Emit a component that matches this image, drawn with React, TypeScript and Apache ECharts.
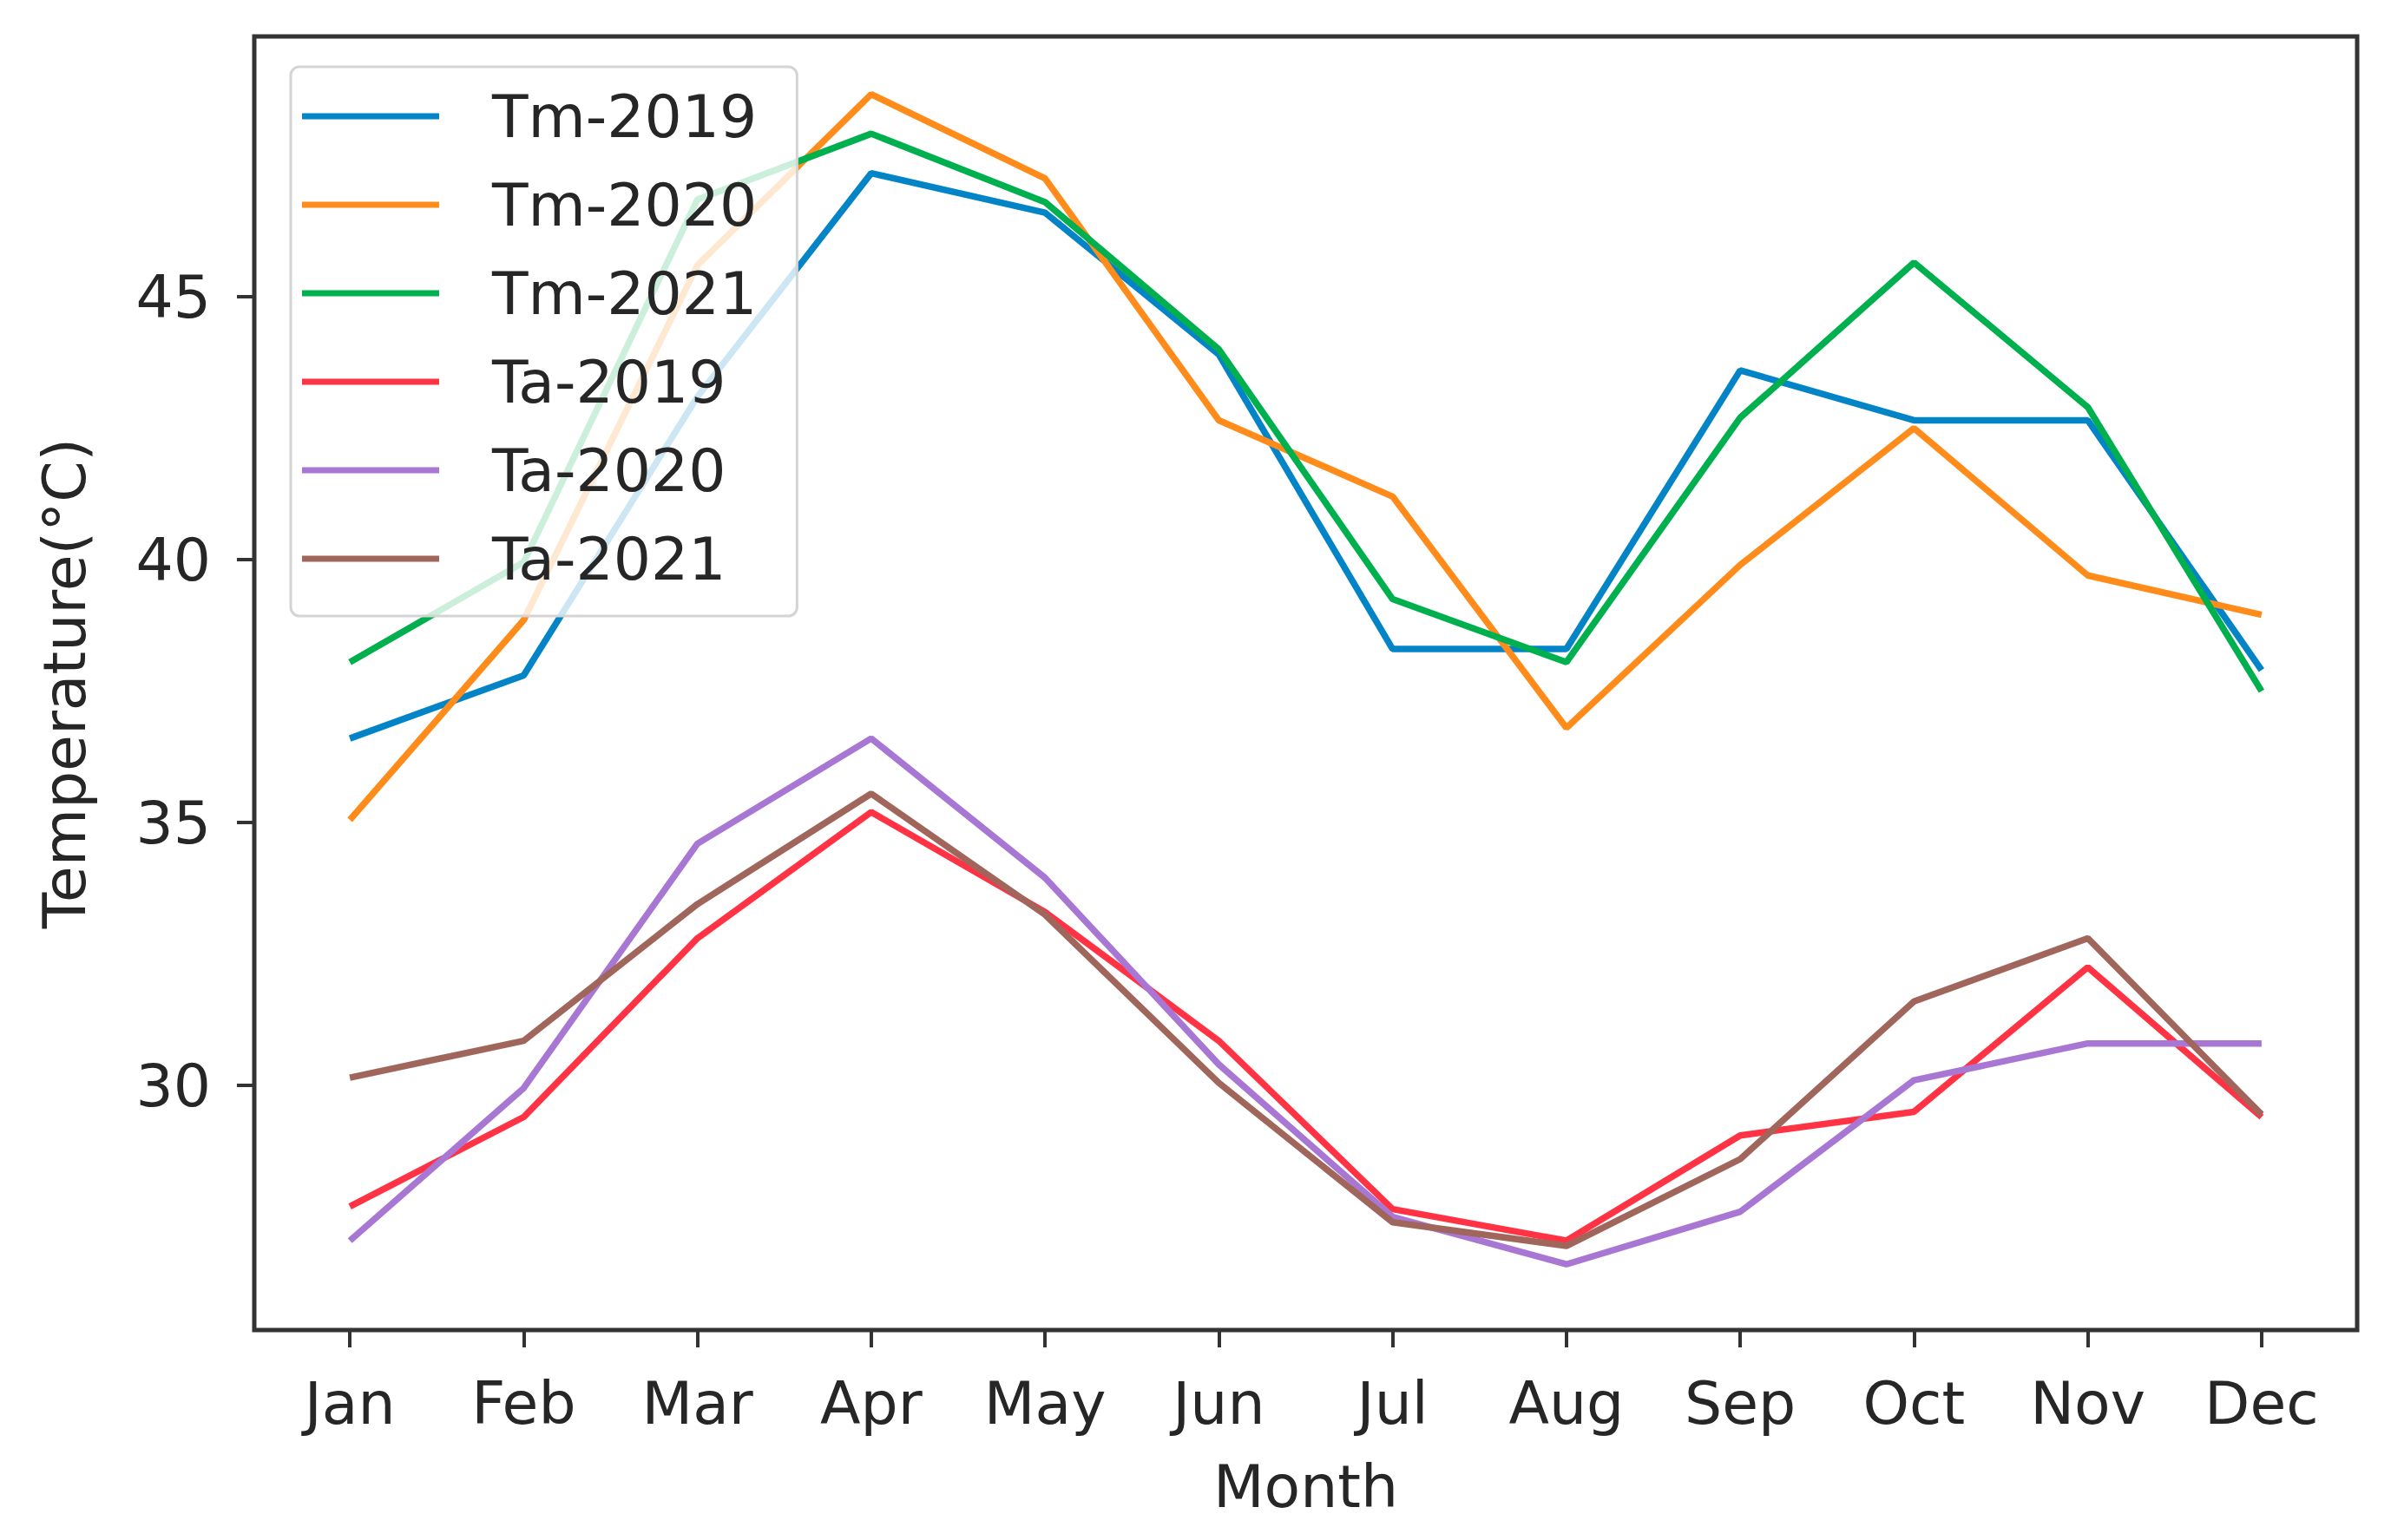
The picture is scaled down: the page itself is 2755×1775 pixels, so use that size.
import React, { useEffect, useRef } from 'react';
import * as echarts from 'echarts';

const months = ['Jan', 'Feb', 'Mar', 'Apr', 'May', 'Jun', 'Jul', 'Aug', 'Sep', 'Oct', 'Nov', 'Dec'];
const yTicks = [30, 35, 40, 45];

const tm2019 = [36.6, 37.8, 43.1, 47.35, 46.6, 43.9, 38.3, 38.3, 43.6, 42.65, 42.65, 37.9];
const tm2020 = [35.05, 38.85, 45.6, 48.85, 47.25, 42.65, 41.2, 36.8, 39.9, 42.5, 39.7, 38.95];
const tm2021 = [38.05, 39.95, 46.85, 48.1, 46.8, 44.0, 39.25, 38.05, 42.7, 45.65, 42.9, 37.5];
const ta2019 = [27.7, 29.4, 32.8, 35.2, 33.3, 30.85, 27.65, 27.05, 29.05, 29.5, 32.25, 29.4];
const ta2020 = [27.05, 29.95, 34.6, 36.6, 33.95, 30.4, 27.5, 26.6, 27.6, 30.1, 30.8, 30.8];
const ta2021 = [30.15, 30.85, 33.45, 35.55, 33.25, 30.05, 27.4, 26.95, 28.6, 31.6, 32.8, 29.45];

const seriesDefs = [
  { name: 'Tm-2019', values: tm2019, color: '#0284c7' },
  { name: 'Tm-2020', values: tm2020, color: '#ff8c1a' },
  { name: 'Tm-2021', values: tm2021, color: '#00b04f' },
  { name: 'Ta-2019', values: ta2019, color: '#ff3344' },
  { name: 'Ta-2020', values: ta2020, color: '#a877d4' },
  { name: 'Ta-2021', values: ta2021, color: '#a0665c' },
];

const FONT = 'DejaVu Sans';
const TEXT = '#262626';
const AXIS = '#333333';

export default function App() {
  const ref = useRef<HTMLDivElement>(null);

  useEffect(() => {
    if (!ref.current) return;
    const chart = echarts.init(ref.current, undefined, { renderer: 'svg' });

    chart.setOption({
      animation: false,
      backgroundColor: '#ffffff',
      textStyle: { fontFamily: FONT, color: TEXT },
      grid: {
        left: 293,
        right: 39,
        top: 42,
        bottom: 242,
        show: true,
        borderColor: AXIS,
        borderWidth: 5,
        backgroundColor: 'transparent',
      },
      legend: {
        orient: 'vertical',
        left: 335,
        top: 77,
        icon: 'rect',
        itemWidth: 158,
        itemHeight: 7,
        itemGap: 34,
        padding: [23, 46, 32, 13],
        backgroundColor: 'rgba(255,255,255,0.8)',
        borderColor: '#d4d4d4',
        borderWidth: 3,
        borderRadius: 10,
        textStyle: {
          fontFamily: FONT,
          fontSize: 68,
          color: TEXT,
          padding: [0, 0, 0, 56],
        },
        data: seriesDefs.map((s) => s.name),
      },
      xAxis: {
        type: 'value',
        min: -0.55,
        max: 11.55,
        name: 'Month',
        nameLocation: 'middle',
        nameGap: 146,
        nameTextStyle: { fontFamily: FONT, fontSize: 68, color: TEXT },
        axisLine: { show: false, onZero: false },
        axisTick: {
          show: true,
          length: 20,
          customValues: months.map((_, i) => i),
          lineStyle: { color: AXIS, width: 4 },
        },
        axisLabel: {
          show: true,
          margin: 50,
          fontFamily: FONT,
          fontSize: 68,
          color: TEXT,
          customValues: months.map((_, i) => i),
          formatter: (v: number) => months[Math.round(v)] ?? '',
        },
        splitLine: { show: false },
      },
      yAxis: {
        type: 'value',
        min: 25.35,
        max: 49.95,
        name: 'Temperature(°C)',
        nameLocation: 'middle',
        nameGap: 185,
        nameRotate: 90,
        nameTextStyle: { fontFamily: FONT, fontSize: 68, color: TEXT },
        axisLine: { show: false, onZero: false },
        axisTick: {
          show: true,
          length: 20,
          customValues: yTicks,
          lineStyle: { color: AXIS, width: 4 },
        },
        axisLabel: {
          show: true,
          margin: 50,
          fontFamily: FONT,
          fontSize: 68,
          color: TEXT,
          customValues: yTicks,
          formatter: (v: number) => String(v),
        },
        splitLine: { show: false },
      },
      series: seriesDefs.map((s) => ({
        name: s.name,
        type: 'line',
        data: s.values.map((v, i) => [i, v]),
        symbol: 'none',
        color: s.color,
        lineStyle: { width: 7.5, color: s.color },
        itemStyle: { color: s.color },
        z: 2,
      })),
    });

    return () => {
      chart.dispose();
    };
  }, []);

  return (
    <div
      ref={ref}
      style={{ position: 'fixed', left: 0, top: 0, width: 2755, height: 1775 }}
    />
  );
}
